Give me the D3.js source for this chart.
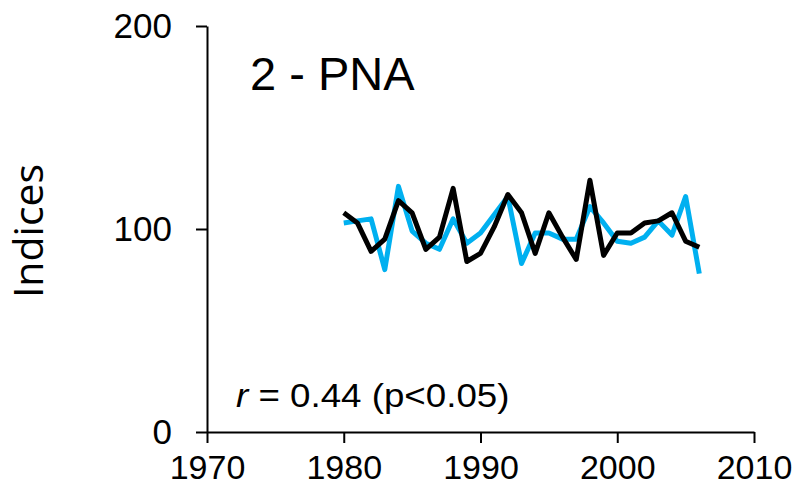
<!DOCTYPE html>
<html>
<head>
<meta charset="utf-8">
<script src="https://cdn.jsdelivr.net/npm/d3@7"></script>
<style>
  html, body { margin: 0; padding: 0; background: #fff; }
  svg { display: block; }
</style>
</head>
<body>
<svg id="chart" width="795" height="494"></svg>
<script>
// Annual index series, 1980–2006
const years = d3.range(1980, 2007);
const observed = [103, 104, 105, 80, 121, 99, 93, 90, 105, 93, 98, 107, 116, 83, 98, 98, 95, 95, 111, 103, 94, 93, 96, 104, 97, 116, 78];
const modelled = [108, 103, 89, 95, 114, 108, 90, 96, 120, 84, 88, 101, 117, 108, 88, 108, 96, 85, 124, 87, 98, 98, 103, 104, 108, 94, 91];
const xTicks = [1970, 1980, 1990, 2000, 2010];
const yTicks = [0, 100, 200];
const panelTitle = "2 - PNA";
const yTitle = "Indices";

const svg = d3.select("#chart");
const x = d3.scaleLinear().domain([1970, 2010]).range([207, 754]);
const y = d3.scaleLinear().domain([0, 200]).range([432, 26]);

const font = "'Liberation Sans', Arial, sans-serif";

// Series lines
const line = (vals) => d3.line()
  .x((d, i) => x(years[i]))
  .y(d => y(d))(vals);

svg.append("path")
  .attr("d", line(observed))
  .attr("fill", "none")
  .attr("stroke", "#00B0F0")
  .attr("stroke-width", 5)
  .attr("stroke-linejoin", "round");

svg.append("path")
  .attr("d", line(modelled))
  .attr("fill", "none")
  .attr("stroke", "#000")
  .attr("stroke-width", 5)
  .attr("stroke-linejoin", "round");

// Axes
const yAxis = svg.append("g")
  .attr("transform", `translate(${x(1970)},0)`)
  .call(d3.axisLeft(y).tickValues(yTicks).tickSize(11).tickSizeOuter(0).tickPadding(24));

const xAxis = svg.append("g")
  .attr("transform", `translate(0,${y(0)})`)
  .call(d3.axisBottom(x).tickValues(xTicks).tickFormat(d3.format("d")).tickSize(11).tickSizeOuter(0).tickPadding(12));

[yAxis, xAxis].forEach(g => {
  g.selectAll("path.domain").attr("stroke", "#000").attr("stroke-width", 2);
  g.selectAll(".tick line").attr("stroke", "#000").attr("stroke-width", 2);
  g.selectAll(".tick text")
    .attr("fill", "#000")
    .style("font-family", font)
    .style("font-size", "34px");
});
yAxis.selectAll(".tick text").style("font-size", "35px");

// Y axis title
svg.append("text")
  .attr("transform", "translate(43,231) rotate(-90)")
  .attr("text-anchor", "middle")
  .style("font-family", "'Open Sans', 'Noto Sans', sans-serif")
  .style("font-size", "41px")
  .attr("fill", "#000")
  .text(yTitle);

// Panel title
svg.append("text")
  .attr("x", 250)
  .attr("y", 90)
  .style("font-family", font)
  .style("font-size", "47px")
  .attr("fill", "#000")
  .text(panelTitle);

// Correlation note
const note = svg.append("text")
  .attr("transform", "translate(236,407) scale(1.08,1)")
  .style("font-family", font)
  .style("font-size", "34px")
  .attr("fill", "#000");
note.append("tspan").style("font-style", "italic").text("r");
note.append("tspan").text(" = 0.44 (p<0.05)");
</script>
</body>
</html>
